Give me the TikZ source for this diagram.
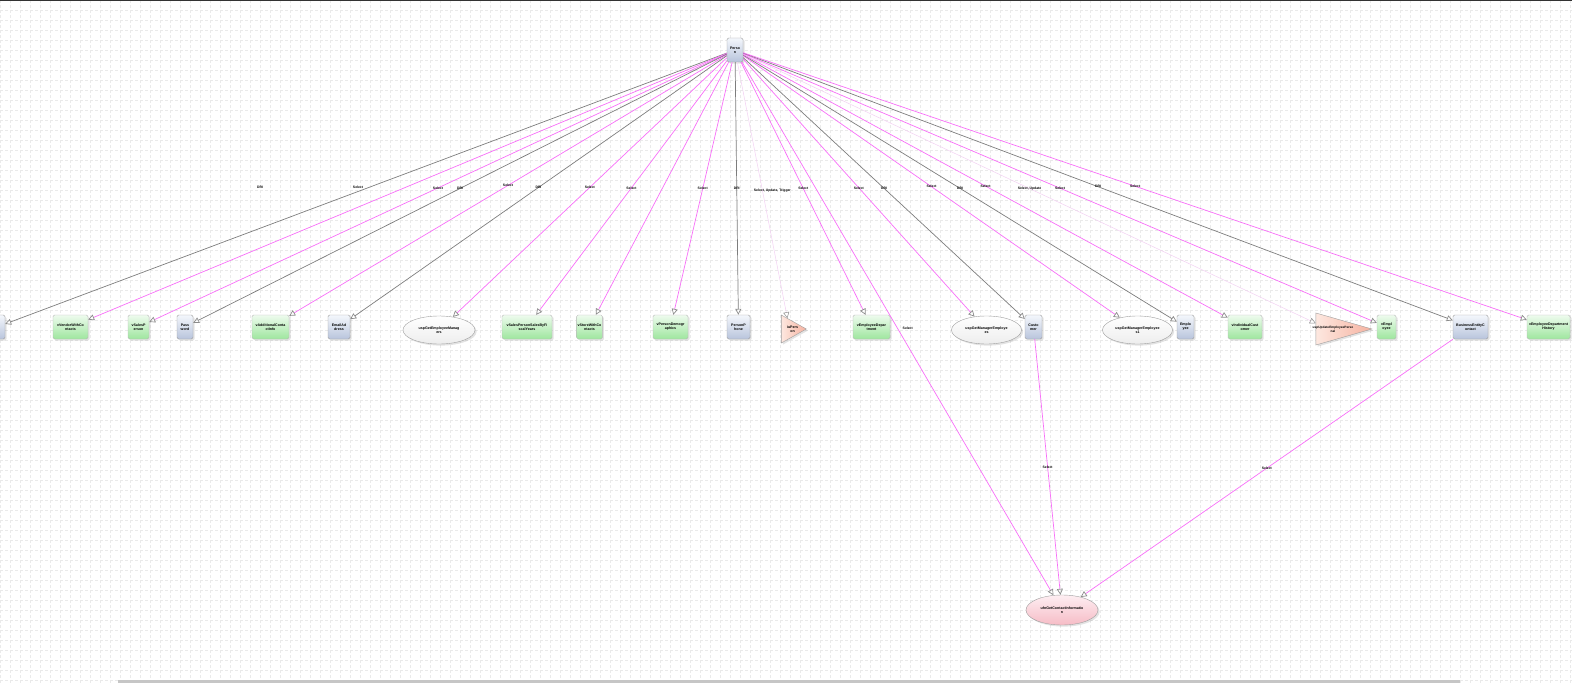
\documentclass[tikz,border=0pt]{standalone}
\usepackage{fontspec}
\setsansfont{Liberation Sans}
\usetikzlibrary{arrows.meta,positioning,shapes.geometric,shadows}
\definecolor{boxgreenA}{RGB}{238,251,238}
\definecolor{boxgreenB}{RGB}{158,230,158}
\definecolor{boxblueA}{RGB}{244,247,252}
\definecolor{boxblueB}{RGB}{184,196,220}
\definecolor{trisalmonA}{RGB}{253,232,224}
\definecolor{trisalmonB}{RGB}{246,178,160}
\definecolor{ellpinkA}{RGB}{254,238,242}
\definecolor{ellpinkB}{RGB}{246,188,198}
\definecolor{linegray}{RGB}{125,125,125}
\definecolor{linemagenta}{RGB}{248,110,248}
\definecolor{linepink}{RGB}{242,208,242}
\definecolor{headgray}{RGB}{140,140,140}
\definecolor{gridgray}{RGB}{234,234,234}

\begin{document}
\begin{tikzpicture}[
    x=1pt, y=-1pt,
    font=\sffamily\bfseries\fontsize{3.6}{4}\selectfont,
    shade/.style={drop shadow={opacity=0.22, shadow xshift=1.6pt, shadow yshift=-1.6pt}},
    obj/.style={rectangle, draw=gray!75, rounded corners=1.5pt, minimum height=24pt, align=center, inner sep=1pt, shade},
    viewbox/.style={obj, top color=boxgreenA, bottom color=boxgreenB, draw=gray!55},
    tablebox/.style={obj, top color=boxblueA, bottom color=boxblueB},
    procnode/.style={ellipse, draw=gray!75, top color=white, bottom color=gray!14, minimum width=72pt, minimum height=28pt, align=center, inner sep=0pt, shade},
    funcnode/.style={ellipse, draw=gray!75, top color=ellpinkA, bottom color=ellpinkB, minimum width=72pt, minimum height=30pt, align=center, inner sep=0pt, shade},
    trignode/.style={isosceles triangle, isosceles triangle stretches, draw=gray!75, left color=trisalmonA, right color=trisalmonB, inner sep=0pt, shade},
    trigtext/.style={font=\sffamily\bfseries\fontsize{3.6}{4}\selectfont, align=center, inner sep=0pt},
    dep/.style={-{Triangle[open, length=6pt, width=6pt, color=headgray]}, line width=0.7pt},
    dri/.style={dep, draw=linegray},
    sel/.style={dep, draw=linemagenta},
    trg/.style={dep, draw=linepink, line width=0.5pt},
    lbl/.style={font=\sffamily\bfseries\fontsize{3.4}{4}\selectfont, inner sep=0.5pt}
]
\useasboundingbox (0,0) rectangle (1572,685);
% Background grid
\foreach \gx in {0,10,...,1570}
  \draw[gridgray, densely dashed, line width=0.5pt] (\gx,0) -- (\gx,685);
\foreach \gy in {0,10,...,680}
  \draw[gridgray, densely dashed, line width=0.5pt] (0,\gy) -- (1572,\gy);
\fill[black!80] (0,0) rectangle (1572,1.5);
\fill[gray!45] (118,680) rectangle (1460,683);

% Nodes
\node[tablebox, minimum width=16pt] (person) at (735,50) {Perso\\n};
\node[tablebox, minimum width=16pt] (addr) at (-3,327) {};
\node[viewbox, minimum width=35pt] (vvendor) at (70.5,327) {vVendorWithCo\\ntacts};
\node[viewbox, minimum width=21pt] (vsalesp) at (138.5,327) {vSalesP\\erson};
\node[tablebox, minimum width=16pt] (passwd) at (185,327) {Pass\\word};
\node[viewbox, minimum width=37pt] (vaddinfo) at (270.5,327) {vAdditionalConta\\ctInfo};
\node[tablebox, minimum width=22pt] (email) at (339,327) {EmailAd\\dress};
\node[procnode] (uspempmgr) at (439,330) {uspGetEmployeeManag\\ers};
\node[viewbox, minimum width=50pt] (vspfiscal) at (527,327) {vSalesPersonSalesByFi\\scalYears};
\node[viewbox, minimum width=23pt] (vstore) at (589.5,327) {vStoreWithCo\\ntacts};
\node[viewbox, minimum width=35pt] (vdemog) at (670.5,327) {vPersonDemogr\\aphics};
\node[tablebox, minimum width=23pt] (phone) at (738.5,327) {PersonP\\hone};
\node[trignode, minimum width=28pt, minimum height=25pt,
      label={[trigtext, xshift=3pt]center:iuPers\\on}] (iuperson) at (789.5,329) {};
\node[viewbox, minimum width=37pt] (vempdept) at (871.5,327) {vEmployeeDepar\\tment};
\node[procnode, minimum width=70pt] (uspmgremp) at (986.5,330) {uspGetManagerEmploye\\es};
\node[tablebox, minimum width=17pt] (customer) at (1033.5,327) {Custo\\mer};
\node[procnode, minimum width=70pt] (uspmgremp1) at (1137.5,330) {uspGetManagerEmployee\\s1};
\node[tablebox, minimum width=17pt] (employee) at (1185.5,327) {Emplo\\yee};
\node[viewbox, minimum width=34pt] (vindcust) at (1245,327) {vIndividualCust\\omer};
\node[trignode, minimum width=32pt, minimum height=56pt,
      label={[trigtext, xshift=5pt, font=\sffamily\bfseries\fontsize{3.2}{3.8}\selectfont]center:uspUpdateEmployeePerso\\nal}] (uspupdate) at (1328,329) {};
\node[viewbox, minimum width=19pt] (vemployee) at (1386.5,327) {vEmpl\\oyee};
\node[tablebox, minimum width=35pt] (bec) at (1470.5,327) {BusinessEntityC\\ontact};
\node[viewbox, minimum width=43pt] (vedhist) at (1548.5,327) {vEmployeeDepartment\\History};
\node[funcnode] (ufncontact) at (1062,610) {ufnGetContactInformatio\\n};

% Arrows
\draw[dri] (person) -- (addr);
\draw[sel] (person) -- (vvendor);
\draw[sel] (person) -- (vsalesp) node[lbl, midway] {Select};
\draw[dri] (person) -- (passwd) node[lbl, midway] {DRI};
\draw[sel] (person) -- (vaddinfo) node[lbl, midway] {Select};
\draw[dri] (person) -- (email) node[lbl, midway] {DRI};
\draw[sel] (person) -- (uspempmgr) node[lbl, midway] {Select};
\draw[sel] (person) -- (vspfiscal) node[lbl, midway] {Select};
\draw[sel] (person) -- (vstore);
\draw[sel] (person) -- (vdemog) node[lbl, midway] {Select};
\draw[dri] (person) -- (phone) node[lbl, midway] {DRI};
\draw[trg] (person) -- (iuperson) node[lbl, midway, xshift=10pt] {Select, Update, Trigger};
\draw[sel] (person) -- (vempdept) node[lbl, midway] {Select};
\draw[sel] (person) -- (uspmgremp) node[lbl, midway] {Select};
\draw[dri] (person) -- (customer) node[lbl, midway] {DRI};
\draw[sel] (person) -- (uspmgremp1) node[lbl, midway] {Select};
\draw[dri] (person) -- (employee) node[lbl, midway] {DRI};
\draw[sel] (person) -- (vindcust) node[lbl, midway] {Select};
\draw[trg] (person) -- (uspupdate) node[lbl, midway] {Select, Update};
\draw[sel] (person) -- (vemployee) node[lbl, midway] {Select};
\draw[dri] (person) -- (bec) node[lbl, midway] {DRI};
\draw[sel] (person) -- (vedhist) node[lbl, midway] {Select};
\draw[sel] (person) -- (ufncontact) node[lbl, midway, xshift=10pt] {Select};
\draw[sel] (customer) -- (ufncontact) node[lbl, midway] {Select};
\draw[sel] (bec) -- (ufncontact) node[lbl, midway] {Select};

% Labels
\node[lbl] at (260,187) {DRI};
\node[lbl] at (358,187) {Select};
\end{tikzpicture}
\end{document}
